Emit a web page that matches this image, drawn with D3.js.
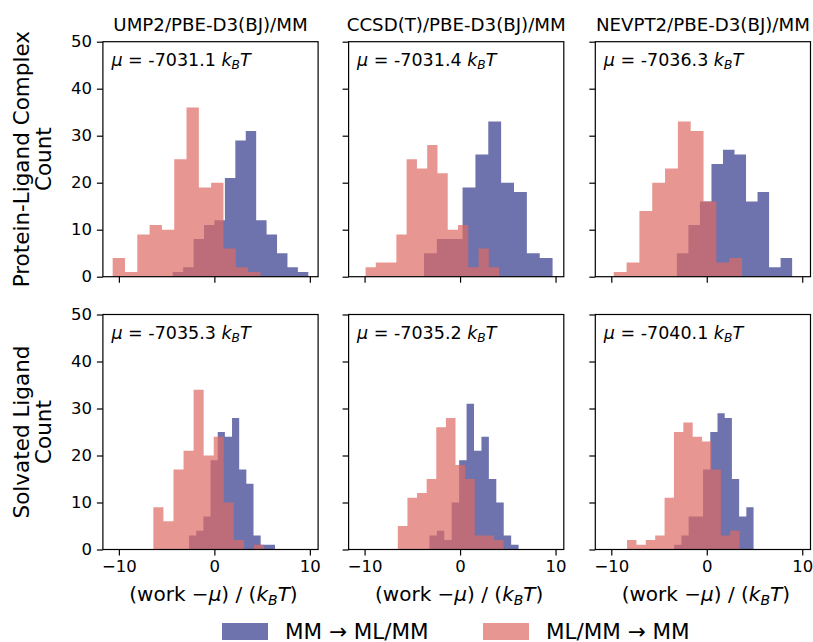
<!DOCTYPE html>
<html>
<head>
<meta charset="utf-8">
<script src="https://cdn.jsdelivr.net/npm/d3@7"></script>
<style>
  body { margin: 0; background: #fff; }
  svg text { font-family: "DejaVu Sans", sans-serif; fill: #000; }
</style>
</head>
<body>
<svg id="chart" width="813" height="642"></svg>
<script>
// ---- data ----
const methods = ["UMP2/PBE-D3(BJ)/MM", "CCSD(T)/PBE-D3(BJ)/MM", "NEVPT2/PBE-D3(BJ)/MM"];
const systems = ["Protein-Ligand Complex", "Solvated Ligand"];
const seriesNames = ["MM \u2192 ML/MM", "ML/MM \u2192 MM"];
const seriesColors = ["#30378b", "#de6962"];
const muValues = [[-7031.1, -7031.4, -7036.3], [-7035.3, -7035.2, -7040.1]];

// forward switching (MM → ML/MM): first and last bin edge, then bin counts
const forwardRange = [
  [[-4.36, 9.84], [-3.78, 9.69], [-3.13, 8.94]],
  [[-2.65, 6.35], [-3.21, 6.13], [-3.41, 4.90]]
];
const forwardCounts = [
  [[1, 2, 8, 11, 12, 21, 29, 31, 12, 9, 5, 2, 1],
   [5, 8, 8, 19, 26, 33, 20, 18, 5, 4],
   [5, 11, 16, 24, 27, 26, 16, 18, 2, 4]],
  [[3, 4, 7, 19, 25, 24, 28, 17, 14, 3, 1, 1],
   [3, 4, 2, 10, 19, 31, 21, 24, 15, 10, 3, 1],
   [1, 3, 7, 7, 17, 25, 29, 28, 15, 7, 9]]
];

// reverse switching (ML/MM → MM)
const reverseRange = [
  [[-10.65, 4.82], [-9.90, 4.09], [-9.74, 3.69]],
  [[-6.39, 5.20], [-6.52, 4.56], [-8.35, 3.44]]
];
const reverseCounts = [
  [[4, 1, 9, 11, 10, 25, 36, 19, 20, 6, 2, 1],
   [2, 3, 3, 9, 25, 23, 28, 22, 10, 11, 2, 6, 2],
   [1, 3, 14, 20, 23, 33, 31, 16, 3, 4]],
  [[9, 6, 17, 21, 34, 20, 24, 10, 2, 0, 1],
   [5, 11, 12, 15, 26, 28, 18, 15, 3, 3, 2],
   [2, 1, 2, 3, 11, 25, 27, 24, 23, 17, 3, 4]]
];

const xTicks = [-10, 0, 10];
const yTicks = [0, 10, 20, 30, 40, 50];
const yMax = 50;

// ---- layout ----
const svg = d3.select("#chart");
const panelW = 215.2, panelH = 235;
const colLeft = [102.9, 348.6, 595.3];
const rowTop = [41.7, 314.5];
const tickFont = 16.5;

// shared x range: full span of all bins with 5% padding
const allEdges = forwardRange.flat(2).concat(reverseRange.flat(2));
const [lo, hi] = d3.extent(allEdges);
const pad = 0.05 * (hi - lo);
const x = d3.scaleLinear().domain([lo - pad, hi + pad]).range([0, panelW]);
const y = d3.scaleLinear().domain([0, yMax]).range([panelH, 0]);

function bins(range, counts) {
  const w = (range[1] - range[0]) / counts.length;
  return counts.map((c, i) => ({ x0: range[0] + i * w, x1: range[0] + (i + 1) * w, n: c }));
}

// one filled step outline per histogram
function histPath(b) {
  const p = d3.path();
  p.moveTo(x(b[0].x0), y(0));
  b.forEach(d => { p.lineTo(x(d.x0), y(d.n)); p.lineTo(x(d.x1), y(d.n)); });
  p.lineTo(x(b[b.length - 1].x1), y(0));
  p.closePath();
  return p.toString();
}

function mathLabel(sel, parts) {
  // parts: [text, style] where style: "i" italic, "sub" italic subscript, "" upright
  parts.forEach(([t, s]) => {
    const ts = sel.append("tspan").text(t);
    if (s === "i" || s === "sub") ts.attr("font-style", "italic");
    if (s === "sub") ts.attr("font-size", "70%").attr("baseline-shift", "-25%");
  });
}

systems.forEach((sys, r) => {
  methods.forEach((m, c) => {
    const g = svg.append("g").attr("transform", `translate(${colLeft[c]},${rowTop[r]})`);

    // histograms: forward first, reverse drawn over it
    [[forwardRange, forwardCounts], [reverseRange, reverseCounts]].forEach(([rng, cnt], s) => {
      g.append("path")
        .attr("d", histPath(bins(rng[r][c], cnt[r][c])))
        .attr("fill", seriesColors[s])
        .attr("fill-opacity", 0.7);
    });

    // axes
    const ax = g.append("g").attr("transform", `translate(0,${panelH})`)
      .call(d3.axisBottom(x).tickValues(xTicks).tickSize(6).tickPadding(5)
        .tickFormat(r === 1 ? d3.format("d") : () => ""));
    const ay = g.append("g")
      .call(d3.axisLeft(y).tickValues(yTicks).tickSize(6).tickPadding(5)
        .tickFormat(c === 0 ? d3.format("d") : () => ""));
    [ax, ay].forEach(a => {
      a.select(".domain").remove();
      a.selectAll("line").attr("stroke", "#000").attr("stroke-width", 1.2);
      a.selectAll("text").attr("font-size", tickFont).attr("font-family", "DejaVu Sans").attr("fill", "#000");
    });

    // frame
    g.append("rect").attr("width", panelW).attr("height", panelH)
      .attr("fill", "none").attr("stroke", "#000").attr("stroke-width", 1.2);

    // mean work annotation
    const t = g.append("text").attr("x", 8.5).attr("y", 24.5).attr("font-size", 17.5);
    mathLabel(t, [["\u03bc", "i"], [" = " + muValues[r][c].toFixed(1) + " ", ""], ["k", "i"], ["B", "sub"], ["T", "i"]]);

    if (r === 0) {
      g.append("text").attr("x", panelW / 2).attr("y", -11).attr("text-anchor", "middle")
        .attr("font-size", 18.2).text(m);
    } else {
      const xl = g.append("text").attr("x", panelW / 2 + 3).attr("y", panelH + 51)
        .attr("text-anchor", "middle").attr("font-size", 20);
      mathLabel(xl, [["(work \u2212", ""], ["\u03bc", "i"], [") / (", ""], ["k", "i"], ["B", "sub"], ["T", "i"], [")", ""]]);
    }

    if (c === 0) {
      const yl = g.append("text").attr("transform", `translate(-70,${panelH / 2}) rotate(-90)`)
        .attr("text-anchor", "middle").attr("font-size", 21.5);
      yl.append("tspan").attr("x", 0).attr("dy", "-0.2em").text(sys);
      yl.append("tspan").attr("x", 0).attr("dy", "1.05em").text("Count");
    }
  });
});

// legend
const legend = svg.append("g");
const legendItems = [{ x: 222 }, { x: 483 }];
seriesNames.forEach((name, i) => {
  const lg = legend.append("g").attr("transform", `translate(${legendItems[i].x},623)`);
  lg.append("rect").attr("width", 46).attr("height", 17)
    .attr("fill", seriesColors[i]).attr("fill-opacity", 0.7);
  lg.append("text").attr("x", 63).attr("y", 15.5).attr("font-size", 21.5).text(name);
});
</script>
</body>
</html>
